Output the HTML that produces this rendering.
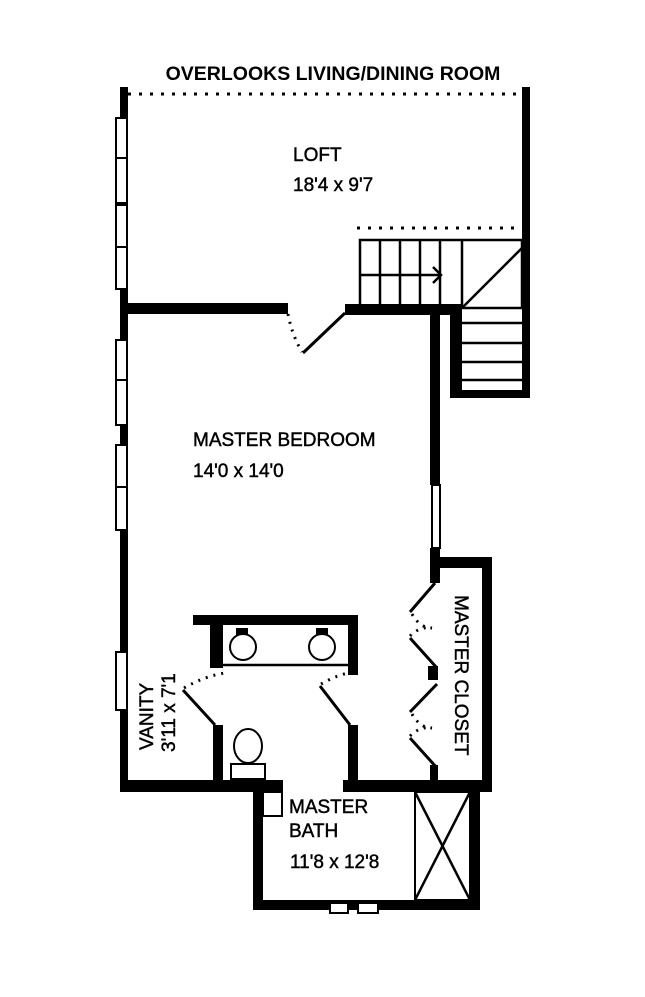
<!DOCTYPE html>
<html><head><meta charset="utf-8"><style>
html,body{margin:0;padding:0;background:#fff;}
svg{display:block;}
text{font-family:"Liberation Sans",Arial,sans-serif;font-size:19px;fill:#000;stroke:#000;stroke-width:0.45;}
</style></head><body>
<svg width="645" height="997" viewBox="0 0 645 997" xmlns="http://www.w3.org/2000/svg">
<rect width="645" height="997" fill="#fff"/>
<text x="333" y="80" text-anchor="middle" font-weight="bold" style="font-size:19.5px;stroke-width:0">OVERLOOKS LIVING/DINING ROOM</text>
<line x1="128" y1="94" x2="522" y2="94" stroke="#000" stroke-width="3" stroke-dasharray="3,8"/>
<line x1="357" y1="228" x2="522" y2="228" stroke="#000" stroke-width="3" stroke-dasharray="3,8"/>
<g fill="#000">
<rect x="120" y="87" width="8" height="705"/>
<rect x="522" y="87" width="8" height="311"/>
<rect x="450" y="308" width="12" height="90"/>
<rect x="450" y="390" width="80" height="8"/>
<rect x="128" y="303" width="160" height="11"/>
<rect x="345" y="304" width="117" height="11"/>
<rect x="430" y="315" width="10" height="170"/>
<rect x="430" y="548" width="10" height="35"/>
<rect x="430" y="557" width="62" height="11"/>
<rect x="482" y="557" width="10" height="235"/>
<rect x="343" y="780" width="149" height="12"/>
<rect x="120" y="780" width="163" height="12"/>
<rect x="428" y="666" width="10" height="14"/>
<rect x="430" y="765" width="8" height="15"/>
<rect x="253" y="780" width="10" height="130"/>
<rect x="253" y="900" width="227" height="10"/>
<rect x="470" y="780" width="10" height="130"/>
<rect x="193" y="615" width="165" height="10"/>
<rect x="210" y="615" width="13" height="53"/>
<rect x="348" y="615" width="10" height="60"/>
<rect x="213" y="725" width="10" height="55"/>
<rect x="348" y="725" width="10" height="55"/>
<rect x="236" y="628" width="12" height="8"/>
<rect x="316" y="628" width="12" height="8"/>
</g>
<g fill="#fff" stroke="#000" stroke-width="2">
<rect x="116" y="118" width="11" height="40"/><rect x="116" y="158" width="11" height="45"/>
<rect x="116" y="205" width="11" height="42"/><rect x="116" y="247" width="11" height="42"/>
<rect x="116" y="340" width="11" height="40"/><rect x="116" y="380" width="11" height="45"/>
<rect x="116" y="445" width="11" height="42"/><rect x="116" y="487" width="11" height="43"/>
<rect x="116" y="652" width="11" height="58"/>
<rect x="432" y="485" width="8" height="63"/>
<rect x="330" y="903" width="18" height="10"/><rect x="358" y="903" width="20" height="10"/>
<circle cx="243" cy="647" r="13"/><circle cx="322" cy="647" r="13"/>
<ellipse cx="248" cy="746" rx="14" ry="17"/>
<rect x="231" y="764" width="34" height="15"/>
<rect x="263" y="792" width="19" height="24"/>
<rect x="415" y="792" width="55" height="108"/>
</g>
<g stroke="#000" stroke-width="2.5" fill="none">
<line x1="223" y1="665" x2="348" y2="665"/>
<line x1="415" y1="792" x2="470" y2="900"/><line x1="470" y1="792" x2="415" y2="900"/>
<rect x="360" y="240" width="162" height="68"/>
<line x1="380" y1="240" x2="380" y2="308"/><line x1="400" y1="240" x2="400" y2="308"/>
<line x1="420" y1="240" x2="420" y2="308"/><line x1="440" y1="240" x2="440" y2="308"/>
<line x1="462" y1="240" x2="462" y2="308"/>
<line x1="360" y1="275" x2="440" y2="275"/>
<polyline points="433,267 441,275 433,283"/>
<line x1="462" y1="308" x2="522" y2="248"/>
<line x1="462" y1="323" x2="522" y2="323"/><line x1="462" y1="343" x2="522" y2="343"/>
<line x1="462" y1="362" x2="522" y2="362"/><line x1="462" y1="380" x2="522" y2="380"/>
<line x1="303" y1="353" x2="345" y2="313" stroke-width="3"/>
<line x1="183" y1="690" x2="215" y2="725" stroke-width="3"/>
<line x1="320" y1="686" x2="350" y2="725" stroke-width="3"/>
<line x1="435" y1="583" x2="410" y2="612" stroke-width="3"/>
<line x1="410" y1="638" x2="437" y2="668" stroke-width="3"/>
<line x1="437" y1="684" x2="410" y2="712" stroke-width="3"/>
<line x1="410" y1="738" x2="437" y2="768" stroke-width="3"/>
</g>
<g stroke="#000" stroke-width="3" fill="none" stroke-dasharray="2,6">
<path d="M288 314 Q292 335 302 352"/>
<path d="M184 688 Q205 676 225 673"/>
<path d="M321 684 Q335 676 348 673"/>
<path d="M412 614 Q420 628 432 628"/>
<path d="M410 636 Q420 626 432 628"/>
<path d="M412 714 Q420 728 432 728"/>
<path d="M410 736 Q420 726 432 728"/>
</g>
<text x="293" y="161">LOFT</text>
<text x="293" y="191">18'4 x 9'7</text>
<text x="193" y="446">MASTER BEDROOM</text>
<text x="193" y="477">14'0 x 14'0</text>
<text transform="translate(153,750) rotate(-90)">VANITY</text>
<text transform="translate(175,752) rotate(-90)">3'11 x 7'1</text>
<text transform="translate(455,595) rotate(90)">MASTER CLOSET</text>
<text x="289" y="813">MASTER</text>
<text x="289" y="837">BATH</text>
<text x="290" y="868">11'8 x 12'8</text>
</svg>
</body></html>
